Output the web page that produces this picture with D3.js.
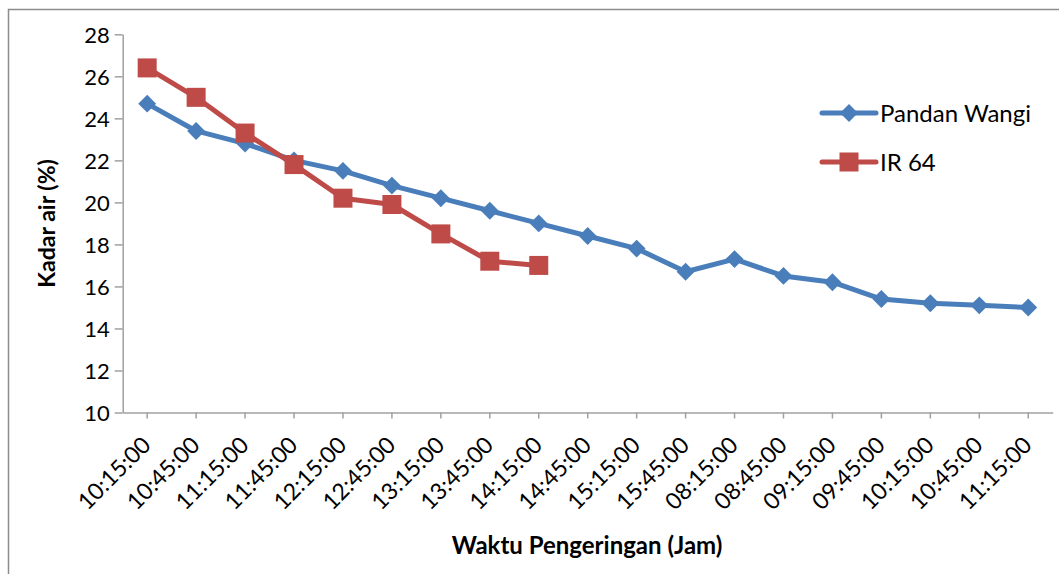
<!DOCTYPE html>
<html>
<head>
<meta charset="utf-8">
<script src="https://cdn.jsdelivr.net/npm/d3@7"></script>
<style>
  body { margin: 0; background: #fff; }
  svg { display: block; font-family: Lato, "Open Sans", sans-serif; }
</style>
</head>
<body>
<svg id="chart" width="1059" height="574"></svg>
<script>
// data
waktu = ["10:15:00","10:45:00","11:15:00","11:45:00","12:15:00","12:45:00","13:15:00",
         "13:45:00","14:15:00","14:45:00","15:15:00","15:45:00","08:15:00","08:45:00",
         "09:15:00","09:45:00","10:15:00","10:45:00","11:15:00"];
pandanWangi = [24.7,23.4,22.8,22.0,21.5,20.8,20.2,19.6,19.0,18.4,17.8,16.7,17.3,16.5,16.2,15.4,15.2,15.1,15.0];
ir64 = [26.4,25.0,23.3,21.8,20.2,19.9,18.5,17.2,17.0];
yTicks = [10,12,14,16,18,20,22,24,26,28];

svg = d3.select("#chart");

// outer frame (runs off the right and bottom edges like the picture)
svg.append("rect")
    .attr("x", 8.5).attr("y", 9.5)
    .attr("width", 1100).attr("height", 600)
    .attr("fill", "none")
    .attr("stroke", "#8c8c8c")
    .attr("stroke-width", 1.5);

plotL = 122.7; plotR = 1052.7; plotT = 34.3; plotB = 412.5;

x = d3.scaleBand()
        .domain(d3.range(waktu.length))
        .range([plotL, plotR]);
y = d3.scaleLinear().domain([10, 28]).range([plotB, plotT]);

cx = i => x(i) + x.bandwidth()/2;

// y axis
yAxis = svg.append("g")
        .attr("transform", `translate(${plotL},0)`)
        .call(d3.axisLeft(y).tickValues(yTicks).tickSize(8).tickPadding(5).tickSizeOuter(0));
yAxis.select(".domain").attr("stroke", "#a0a0a0").attr("stroke-width", 1.5);
yAxis.selectAll(".tick line").attr("stroke", "#a0a0a0").attr("stroke-width", 1.5);
yAxis.selectAll(".tick text")
        .attr("font-size", 22)
        .attr("fill", "#000")
        .attr("font-family", "Lato, sans-serif")
        .attr("dy", "0.36em");

// x axis
xAxis = svg.append("g")
        .attr("transform", `translate(0,${plotB})`)
        .call(d3.axisBottom(x).tickSize(6).tickSizeOuter(0).tickFormat(i => waktu[i]));
xAxis.select(".domain").attr("stroke", "#a0a0a0").attr("stroke-width", 1.5);
xAxis.selectAll(".tick line").attr("stroke", "#a0a0a0").attr("stroke-width", 1.5);
xAxis.selectAll(".tick text")
        .attr("font-size", 23)
        .attr("fill", "#000")
        .attr("font-family", "Lato, sans-serif")
        .attr("text-anchor", "end")
        .attr("y", 0)
        .attr("dy", null)
        .attr("transform", "translate(5,34) rotate(-45)");

// axis titles
svg.append("text")
    .text("Kadar air (%)")
    .attr("transform", `translate(55, ${(plotT+plotB)/2}) rotate(-90)`)
    .attr("text-anchor", "middle")
    .attr("font-size", 23)
    .attr("font-weight", "bold");

svg.append("text")
    .text("Waktu Pengeringan (Jam)")
    .attr("x", 587).attr("y", 554)
    .attr("text-anchor", "middle")
    .attr("font-size", 24)
    .attr("font-weight", "bold");

blue = "#4a7ebb";
red = "#be4b48";

line = d3.line().x((d, i) => cx(i)).y(d => y(d));

diamond = d3.symbol().type(d3.symbolSquare).size(160);

// Pandan Wangi
svg.append("path")
    .datum(pandanWangi)
    .attr("d", line)
    .attr("fill", "none")
    .attr("stroke", blue)
    .attr("stroke-width", 5)
    .attr("stroke-linejoin", "round");
svg.selectAll(".pw")
    .data(pandanWangi)
    .join("path")
    .attr("class", "pw")
    .attr("d", diamond)
    .attr("transform", (d, i) => `translate(${cx(i)},${y(d)}) rotate(45)`)
    .attr("fill", blue);

// IR 64
svg.append("path")
    .datum(ir64)
    .attr("d", line)
    .attr("fill", "none")
    .attr("stroke", red)
    .attr("stroke-width", 5)
    .attr("stroke-linejoin", "round");
svg.selectAll(".ir")
    .data(ir64)
    .join("rect")
    .attr("class", "ir")
    .attr("x", (d, i) => cx(i) - 9.5)
    .attr("y", d => y(d) - 9.5)
    .attr("width", 19)
    .attr("height", 19)
    .attr("fill", red);

// legend
legend = svg.append("g");
legendItems = [
    {name: "Pandan Wangi", color: blue, mark: "diamond"},
    {name: "IR 64", color: red, mark: "square"}
];
legendItems.forEach((it, k) => {
    ly = 113 + k*49;
    legend.append("line")
        .attr("x1", 822).attr("x2", 876)
        .attr("y1", ly).attr("y2", ly)
        .attr("stroke", it.color)
        .attr("stroke-width", 5)
        .attr("stroke-linecap", "round");
    if (it.mark === "diamond") {
        legend.append("path")
            .attr("d", diamond)
            .attr("transform", `translate(849,${ly}) rotate(45)`)
            .attr("fill", it.color);
    } else {
        legend.append("rect")
            .attr("x", 849 - 9.5).attr("y", ly - 9.5)
            .attr("width", 19).attr("height", 19)
            .attr("fill", it.color);
    }
    legend.append("text")
        .text(it.name)
        .attr("x", 880).attr("y", ly)
        .attr("dy", "0.36em")
        .attr("font-size", 24);
});
</script>
</body>
</html>
